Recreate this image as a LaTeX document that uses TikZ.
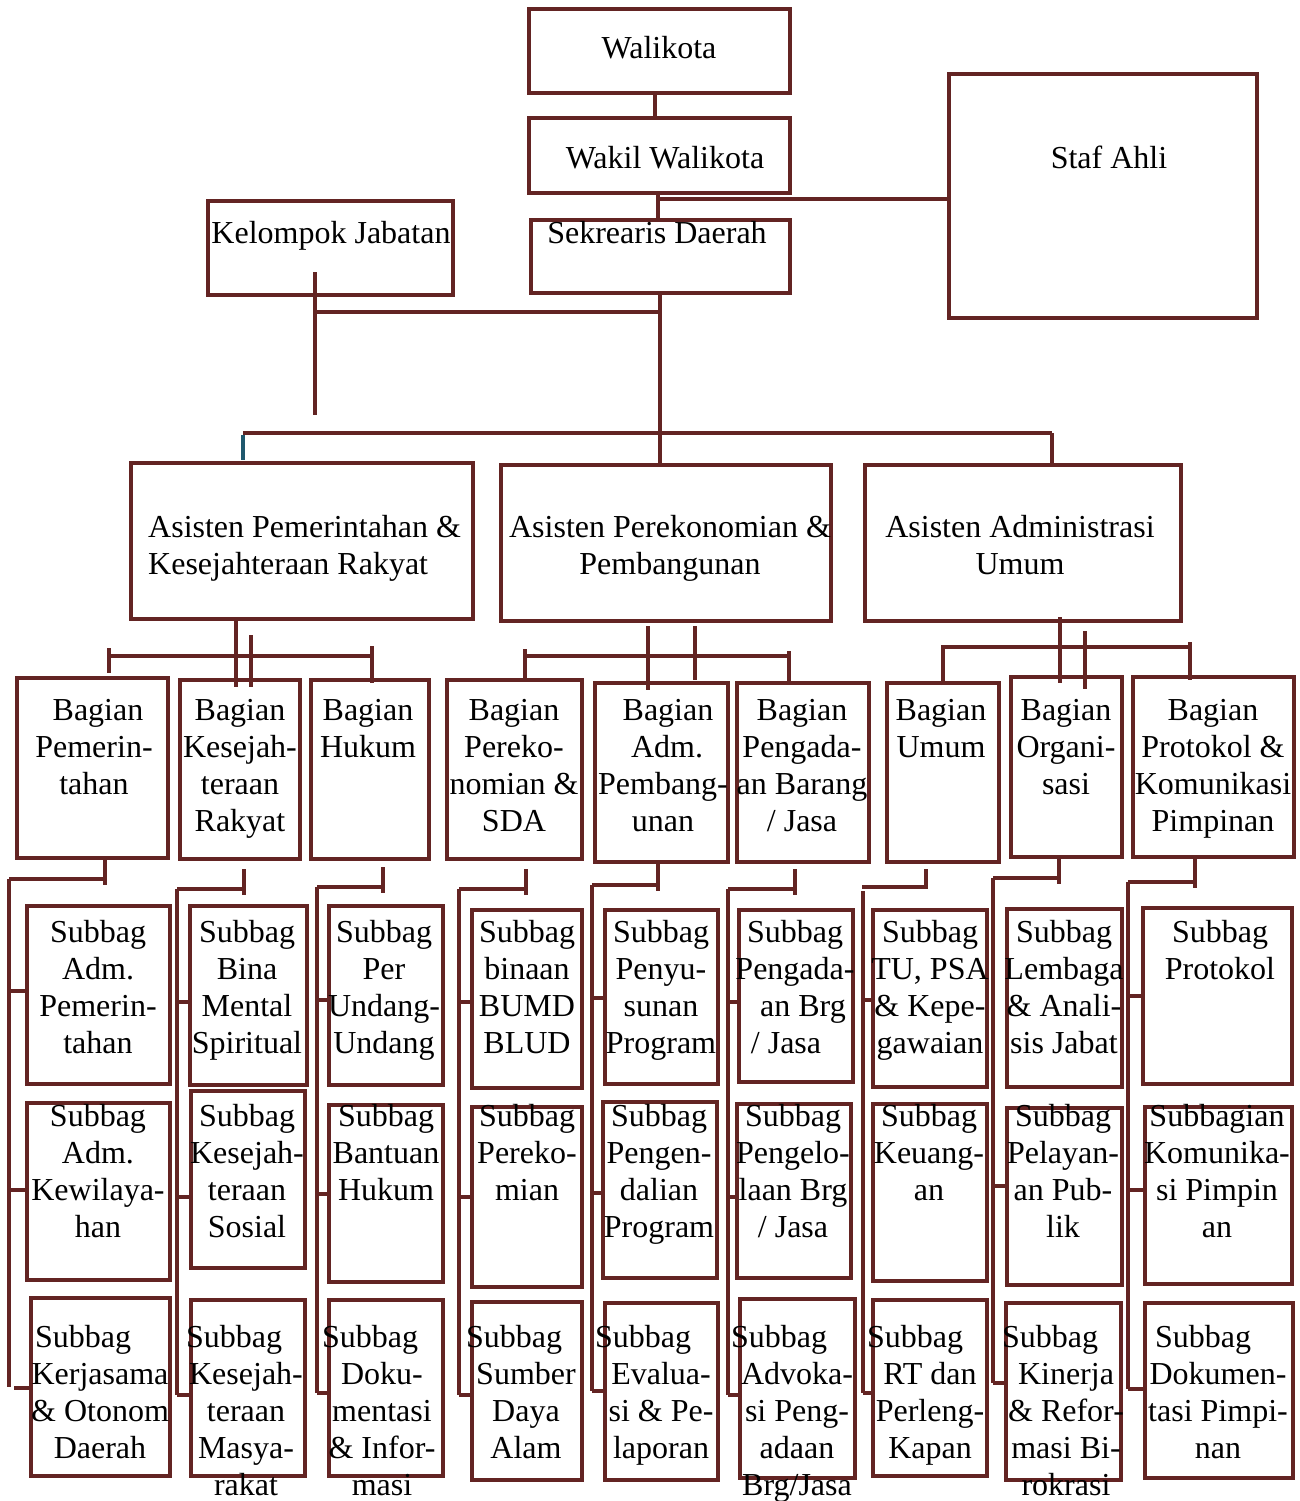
\documentclass[tikz,border=0pt]{standalone}
\usepackage{fontspec}
\setmainfont{Liberation Serif}
\definecolor{brn}{RGB}{99,36,35}
\definecolor{tl}{RGB}{31,88,110}
\newcommand\shl[2]{#2\hspace*{#1}}
\newcommand\shr[2]{\hspace*{#1}#2}
\newcommand\bx[5]{%
  \pgfmathsetmacro\bw{#4-#2}\pgfmathsetmacro\bh{#5-#3}%
  \node[box, minimum width=\bw pt, minimum height=\bh pt, anchor=north west] (#1) at (#2,#3) {};}
\newcommand\tx[4]{\node[txt] (#1) at (#2,#3) {#4};}
\tikzset{
  box/.style={draw=brn, line width=4pt, inner sep=0pt, outer sep=0pt},
  txt/.style={anchor=north, align=center, inner sep=0pt, font=\fontsize{32}{37}\selectfont},
  ln/.style={draw=brn, line width=3.5pt},
}
\begin{document}
\begin{tikzpicture}[x=1pt,y=-1pt]
\useasboundingbox (0,0) rectangle (1299,1501);
\fill[white] (0,0) rectangle (1299,1501);
% top boxes
\bx{wali}{529}{9}{790}{93}
\bx{wakil}{529}{118}{790}{193}
\bx{sekda}{531}{220}{790}{293}
\bx{staf}{949}{74}{1257}{318}
\bx{kel}{208}{201}{453}{295}
% asisten
\bx{a1}{131}{463}{473}{619}
\bx{a2}{501}{465}{831}{621}
\bx{a3}{865}{465}{1181}{621}
% bagian
\bx{b1}{17}{678}{168}{858}
\bx{b2}{180}{680}{300}{859}
\bx{b3}{311}{680}{429}{859}
\bx{b4}{447}{680}{582}{859}
\bx{b5}{595}{683}{728}{862}
\bx{b6}{737}{683}{869}{862}
\bx{b7}{887}{683}{999}{862}
\bx{b8}{1011}{677}{1122}{857}
\bx{b9}{1133}{677}{1294}{857}
% subbag row a
\bx{s1a}{27}{906}{170}{1084}
\bx{s2a}{190}{906}{307}{1085}
\bx{s3a}{329}{906}{443}{1085}
\bx{s4a}{472}{910}{582}{1088}
\bx{s5a}{605}{910}{718}{1084}
\bx{s6a}{739}{910}{853}{1082}
\bx{s7a}{873}{910}{987}{1087}
\bx{s8a}{1007}{909}{1122}{1087}
\bx{s9a}{1143}{908}{1292}{1084}
% row b
\bx{s1b}{27}{1103}{170}{1280}
\bx{s2b}{191}{1091}{305}{1268}
\bx{s3b}{329}{1105}{443}{1282}
\bx{s4b}{472}{1107}{582}{1287}
\bx{s5b}{603}{1102}{717}{1278}
\bx{s6b}{737}{1104}{851}{1278}
\bx{s7b}{873}{1104}{987}{1281}
\bx{s8b}{1007}{1108}{1122}{1285}
\bx{s9b}{1145}{1107}{1292}{1284}
% row c
\bx{s1c}{31}{1298}{170}{1476}
\bx{s2c}{191}{1300}{305}{1476}
\bx{s3c}{329}{1300}{443}{1476}
\bx{s4c}{472}{1302}{582}{1480}
\bx{s5c}{605}{1303}{718}{1480}
\bx{s6c}{740}{1299}{855}{1478}
\bx{s7c}{873}{1300}{987}{1476}
\bx{s8c}{1006}{1303}{1121}{1480}
\bx{s9c}{1145}{1303}{1293}{1478}
% top connectors
\draw[ln] (655,93) -- (655,118);
\draw[ln] (658,193) -- (658,220);
\draw[ln] (658,199) -- (949,199);
\draw[ln] (315,272) -- (315,415);
\draw[ln] (315,312) -- (660,312);
\draw[ln] (660,293) -- (660,463);
\draw[ln] (243,433) -- (1052,433);
\draw[draw=tl, line width=3.5pt] (243,435) -- (243,460);
\draw[ln] (1052,433) -- (1052,463);
% asisten -> bagian
\draw[ln] (236,619) -- (236,687);
\draw[ln] (251,635) -- (251,687);
\draw[ln] (109,656) -- (372,656);
\draw[ln] (109,648) -- (109,673);
\draw[ln] (372,646) -- (372,683);
\draw[ln] (648,626) -- (648,690);
\draw[ln] (695,626) -- (695,680);
\draw[ln] (525,656) -- (789,656);
\draw[ln] (525,649) -- (525,678);
\draw[ln] (789,651) -- (789,685);
\draw[ln] (943,685) -- (943,647) -- (1190,647);
\draw[ln] (1190,642) -- (1190,680);
\draw[ln] (1060,617) -- (1060,683);
\draw[ln] (1085,631) -- (1085,689);
% bagian -> subbag
\draw[ln] (105,858) -- (105,885);
\draw[ln] (9,879) -- (105,879);
\draw[ln] (9,879) -- (9,1387);
\draw[ln] (9,991) -- (27,991);
\draw[ln] (9,1190) -- (27,1190);
\draw[ln] (14,1388) -- (31,1388);
\draw[ln] (244,869) -- (244,895);
\draw[ln] (177,889) -- (244,889);
\draw[ln] (177,889) -- (177,1395);
\draw[ln] (177,1002) -- (190,1002);
\draw[ln] (177,1197) -- (191,1197);
\draw[ln] (177,1395) -- (191,1395);
\draw[ln] (383,867) -- (383,893);
\draw[ln] (317,887) -- (383,887);
\draw[ln] (317,887) -- (317,1393);
\draw[ln] (317,1000) -- (329,1000);
\draw[ln] (317,1194) -- (329,1194);
\draw[ln] (317,1393) -- (329,1393);
\draw[ln] (526,869) -- (526,895);
\draw[ln] (459,889) -- (526,889);
\draw[ln] (459,889) -- (459,1395);
\draw[ln] (459,1002) -- (472,1002);
\draw[ln] (459,1197) -- (472,1197);
\draw[ln] (459,1395) -- (472,1395);
\draw[ln] (658,862) -- (658,891);
\draw[ln] (592,885) -- (658,885);
\draw[ln] (592,885) -- (592,1391);
\draw[ln] (592,998) -- (605,998);
\draw[ln] (592,1193) -- (603,1193);
\draw[ln] (592,1391) -- (605,1391);
\draw[ln] (795,869) -- (795,895);
\draw[ln] (728,889) -- (795,889);
\draw[ln] (728,889) -- (728,1395);
\draw[ln] (728,1002) -- (739,1002);
\draw[ln] (728,1197) -- (737,1197);
\draw[ln] (728,1395) -- (740,1395);
\draw[ln] (926,869) -- (926,889);
\draw[ln] (862,887) -- (926,887);
\draw[ln] (863,891) -- (863,1393);
\draw[ln] (863,1000) -- (873,1000);
\draw[ln] (863,1393) -- (873,1393);
\draw[ln] (1059,857) -- (1059,884);
\draw[ln] (993,878) -- (1059,878);
\draw[ln] (993,878) -- (993,1383);
\draw[ln] (993,1186) -- (1007,1186);
\draw[ln] (993,1383) -- (1006,1383);
\draw[ln] (1195,857) -- (1195,888);
\draw[ln] (1128,882) -- (1195,882);
\draw[ln] (1128,882) -- (1128,1389);
\draw[ln] (1128,996) -- (1143,996);
\draw[ln] (1128,1190) -- (1145,1190);
\draw[ln] (1128,1389) -- (1145,1389);
% texts top
\tx{twali}{659}{36}{Walikota}
\tx{twakil}{665}{146}{Wakil Walikota}
\tx{tsekda}{657}{221}{Sekrearis Daerah}
\tx{tkel}{331}{221}{Kelompok Jabatan}
\tx{tstaf}{1109}{146}{Staf Ahli}
\node[txt, anchor=north west, align=left] (ta1) at (148,515) {Asisten Pemerintahan \&\\Kesejahteraan Rakyat};
\tx{ta2}{670}{515}{Asisten Perekonomian \&\\Pembangunan}
\tx{ta3}{1020}{515}{Asisten Administrasi\\Umum}
% bagian texts
\tx{tb1}{94}{699}{\shr{8pt}{Bagian}\\Pemerin-\\tahan}
\tx{tb2}{240}{699}{Bagian\\Kesejah-\\teraan\\Rakyat}
\tx{tb3}{368}{699}{Bagian\\Hukum}
\tx{tb4}{514}{699}{Bagian\\Pereko-\\nomian \&\\SDA}
\tx{tb5}{663}{699}{\shr{10pt}{Bagian}\\\shr{8pt}{Adm.}\\Pembang-\\unan}
\tx{tb6}{802}{699}{Bagian\\Pengada-\\an Barang\\/ Jasa}
\tx{tb7}{941}{699}{Bagian\\Umum}
\tx{tb8}{1066}{699}{Bagian\\Organi-\\sasi}
\tx{tb9}{1213}{699}{Bagian\\Protokol \&\\Komunikasi\\Pimpinan}
% row a
\tx{ts1a}{98}{920}{Subbag\\Adm.\\Pemerin-\\tahan}
\tx{ts2a}{247}{920}{Subbag\\Bina\\Mental\\Spiritual}
\tx{ts3a}{384}{920}{Subbag\\Per\\Undang-\\Undang}
\tx{ts4a}{527}{920}{Subbag\\binaan\\BUMD\\BLUD}
\tx{ts5a}{661}{920}{Subbag\\Penyu-\\sunan\\Program}
\tx{ts6a}{795}{920}{Subbag\\Pengada-\\\shr{16pt}{an Brg}\\\shl{18pt}{/ Jasa}}
\tx{ts7a}{930}{920}{Subbag\\TU, PSA\\\& Kepe-\\gawaian}
\tx{ts8a}{1064}{920}{Subbag\\Lembaga\\\& Anali-\\sis Jabat}
\tx{ts9a}{1220}{920}{Subbag\\Protokol}
% row b
\tx{ts1b}{98}{1104}{Subbag\\Adm.\\Kewilaya-\\han}
\tx{ts2b}{247}{1104}{Subbag\\Kesejah-\\teraan\\Sosial}
\tx{ts3b}{386}{1104}{Subbag\\Bantuan\\Hukum}
\tx{ts4b}{527}{1104}{Subbag\\Pereko-\\mian}
\tx{ts5b}{659}{1104}{Subbag\\Pengen-\\dalian\\Program}
\tx{ts6b}{793}{1104}{Subbag\\Pengelo-\\laan Brg\\/ Jasa}
\tx{ts7b}{929}{1104}{Subbag\\Keuang-\\an}
\tx{ts8b}{1063}{1104}{Subbag\\Pelayan-\\an Pub-\\lik}
\tx{ts9b}{1217}{1104}{Subbagian\\Komunika-\\si Pimpin\\an}
% row c
\tx{ts1c}{100}{1325}{\shl{34pt}{Subbag}\\Kerjasama\\\& Otonom\\Daerah}
\tx{ts2c}{246}{1325}{\shl{24pt}{Subbag}\\Kesejah-\\teraan\\Masya-\\rakat}
\tx{ts3c}{382}{1325}{\shl{24pt}{Subbag}\\\shl{16pt}{Doku-}\\mentasi\\\& Infor-\\masi}
\tx{ts4c}{526}{1325}{\shl{24pt}{Subbag}\\Sumber\\Daya\\Alam}
\tx{ts5c}{661}{1325}{\shl{36pt}{Subbag}\\Evalua-\\si \& Pe-\\laporan}
\tx{ts6c}{797}{1325}{\shl{36pt}{Subbag}\\Advoka-\\si Peng-\\adaan\\Brg/Jasa}
\tx{ts7c}{930}{1325}{\shl{30pt}{Subbag}\\RT dan\\Perleng-\\Kapan}
\tx{ts8c}{1066}{1325}{\shl{32pt}{Subbag}\\Kinerja\\\& Refor-\\masi Bi-\\rokrasi}
\tx{ts9c}{1218}{1325}{\shl{30pt}{Subbag}\\Dokumen-\\tasi Pimpi-\\nan}
\end{tikzpicture}
\end{document}
